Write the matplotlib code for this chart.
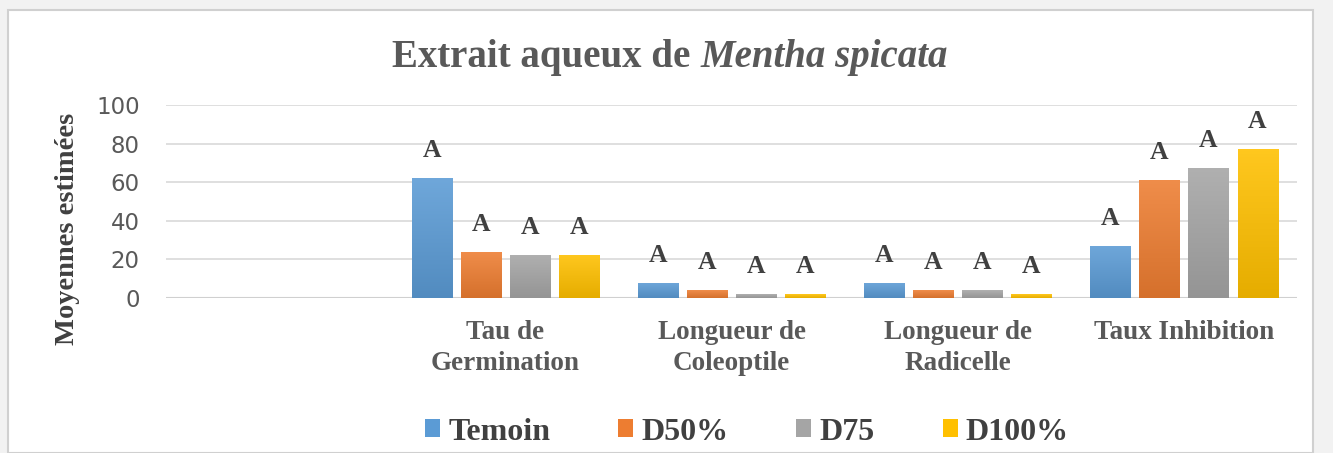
import matplotlib
matplotlib.use("Agg")
import matplotlib.pyplot as plt
import numpy as np
from matplotlib.patches import Rectangle
from matplotlib.colors import to_rgb

categories = ["", "Tau de\nGermination", "Longueur de\nColeoptile", "Longueur de\nRadicelle", "Taux Inhibition"]
series_names = ["Temoin", "D50%", "D75", "D100%"]
temoin = [np.nan, 62, 7.8, 7.8, 27]
d50 = [np.nan, 23.8, 4.1, 4.1, 61]
d75 = [np.nan, 22.3, 2.0, 4.1, 67.5]
d100 = [np.nan, 22.3, 2.0, 2.0, 77.4]
letters = ["A", "A", "A", "A"]
yticks = [0, 20, 40, 60, 80, 100]

values = [temoin, d50, d75, d100]
colors = ["#5B9BD5", "#ED7D31", "#A5A5A5", "#FFC000"]

fig = plt.figure(figsize=(13.33, 4.53), dpi=100)
fig.patch.set_facecolor("#F2F2F2")
fig.patches.append(Rectangle((8/1333, 0), (1313-8)/1333, 1-10/453, transform=fig.transFigure,
                             facecolor="white", edgecolor="#D0D0D0", lw=1.5, zorder=-5))

ax = fig.add_axes([166/1333, 1-298/453, (1297-166)/1333, (298-105)/453])
ax.set_zorder(2)
ax.set_facecolor("none")
ax.set_xlim(-0.5, 4.5)
ax.set_ylim(0, 100)
ax.set_yticks(yticks)
ax.grid(axis="y", color="#D9D9D9", lw=1.2)
ax.set_axisbelow(True)
for s in ax.spines.values():
    s.set_visible(False)
ax.tick_params(axis="both", length=0)
ax.tick_params(axis="y", labelsize=16.5, labelcolor="#595959", pad=19)
ax.set_xticks(range(len(categories)))
ax.set_xticklabels(categories, family="Liberation Serif", fontweight="bold", fontsize=19.5,
                   color="#595959", linespacing=1.3)
ax.tick_params(axis="x", pad=16)
ax.axhline(0, color="#D0D0D0", lw=1.5, zorder=1)

width = 0.177
step = 0.217
x = np.arange(len(categories))

def lighten(c, f):
    r = np.array(to_rgb(c))
    return tuple(r + (1 - r) * f)

def darken(c, f):
    r = np.array(to_rgb(c))
    return tuple(r * (1 - f))

for i, (vals, col, name) in enumerate(zip(values, colors, series_names)):
    pos = x + (i - 1.5) * step
    bars = ax.bar(pos, vals, width=width, color=col, label=name, zorder=2)
    for b, v in zip(bars, vals):
        if np.isnan(v):
            continue
        grad = np.linspace(0, 1, 50).reshape(-1, 1)
        top = np.array(lighten(col, 0.12))
        bot = np.array(darken(col, 0.1))
        img = (grad[..., None] * top + (1 - grad[..., None]) * bot)
        im = ax.imshow(img, extent=(b.get_x(), b.get_x() + b.get_width(), 0, v),
                       origin="lower", aspect="auto", zorder=3)
        im.set_clip_path(b)
        ax.annotate(letters[i], (b.get_x() + b.get_width() / 2, v), xytext=(0, 11.5),
                    textcoords="offset points", ha="center", va="bottom",
                    family="Liberation Serif", fontweight="bold", fontsize=18.5, color="#404040")
ax.set_xlim(-0.5, 4.5)
ax.set_ylim(0, 100)

ax.set_ylabel("Moyennes estimées", family="Liberation Serif", fontweight="bold",
              fontsize=20.5, color="#404040")
ax.yaxis.set_label_coords(-0.076, 0.357)

ty = 1 - 57/453
t1 = fig.text(0, ty, "Extrait aqueux de ", ha="left", va="center",
              family="Liberation Serif", fontweight="bold", fontsize=28, color="#595959")
t2 = fig.text(0, ty, "Mentha spicata", ha="left", va="center",
              family="Liberation Serif", fontweight="bold", style="italic", fontsize=28, color="#595959")
fig.canvas.draw()
r = fig.canvas.get_renderer()
w1 = t1.get_window_extent(r).width
w2 = t2.get_window_extent(r).width
x0 = 670 - (w1 + w2) / 2
t1.set_x(x0 / 1333)
t2.set_x((x0 + w1) / 1333)

leg = fig.legend(loc="center", bbox_to_anchor=(0.5604, 1 - 432/453), ncol=4, frameon=False,
                 prop={"family": "Liberation Serif", "weight": "bold", "size": 23},
                 handlelength=0.47, handleheight=0.47, handletextpad=0.25, columnspacing=2.13,
                 labelcolor="#404040")

fig.savefig("out.png", dpi=100, facecolor=fig.get_facecolor())
